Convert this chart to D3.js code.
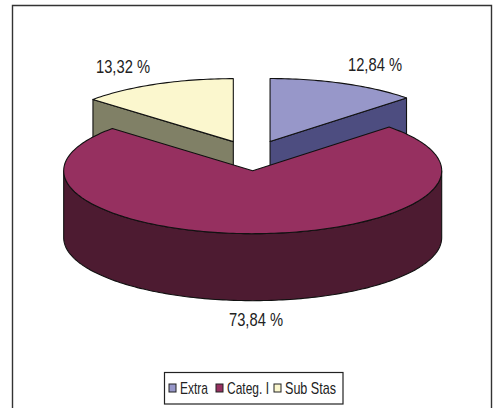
<!DOCTYPE html>
<html>
<head>
<meta charset="utf-8">
<script src="https://cdnjs.cloudflare.com/ajax/libs/d3/7.8.5/d3.min.js"></script>
<style>
html,body{margin:0;padding:0;background:#fff}
svg{display:block}
text{font-family:"Liberation Sans",Arial,sans-serif;fill:#222}
</style>
</head>
<body>
<svg id="chart" width="494" height="408"></svg>
<script>
// Share of each quality grade
const categories = ["Extra", "Categ. I", "Sub Stas"];
const shares = [12.84, 73.84, 13.32];
const shareLabels = ["12,84 %", "73,84 %", "13,32 %"];
const topColors = ["#9797c9", "#963060", "#fbf7ce"];
const sideColors = ["#4d4d80", "#4d1b31", "#808066"];

const svg = d3.select("#chart");
const W = 494, H = 408;
const cx = 252, cy = 155.5, rx = 189, ry = 63, depth = 67;
const explodeDist = 46, explodeTilt = 0.33;

// Outer chart frame, open along the bottom where the page ends
svg.append("path")
  .attr("d", d3.line()([[12.5, H + 2], [12.5, 5.5], [491.5, 5.5], [491.5, H + 2]]))
  .attr("fill", "none").attr("stroke", "#333").attr("stroke-width", 1.4);

const slices = d3.pie().sort(null).value(d => d)(shares);

// Point on a slice's ellipse; angle is clockwise from twelve o'clock
const rim = (c, a, dy = 0) => [c.x + rx * Math.sin(a), c.y - ry * Math.cos(a) + dy];
const arcAngles = (a0, a1) => {
  const n = Math.max(2, Math.ceil(Math.abs(a1 - a0) / 0.02));
  return d3.range(n + 1).map(i => a0 + (a1 - a0) * i / n);
};
const line = d3.line();
const outline = { stroke: "#111", width: 1.1 };

const shapes = slices.map((s, i) => {
  const mid = (s.startAngle + s.endAngle) / 2;
  const c = {
    x: cx + explodeDist * Math.sin(mid),
    y: cy - explodeDist * explodeTilt * Math.cos(mid)
  };
  return { s, i, c };
});

function face(d, fill) {
  svg.append("path").attr("d", d)
    .attr("fill", fill)
    .attr("stroke", outline.stroke)
    .attr("stroke-width", outline.width)
    .attr("stroke-linejoin", "round");
}

// Small back slices go first so the large slice overlaps their walls
[0, 2, 1].forEach(idx => {
  const { s, i, c } = shapes[idx];
  const a0 = s.startAngle, a1 = s.endAngle;
  const top = [[c.x, c.y], ...arcAngles(a0, a1).map(a => rim(c, a))];

  // Radial cut walls that face the viewer
  if (i === 0) {
    const p = rim(c, a1);
    face(line([[c.x, c.y], p, [p[0], p[1] + depth], [c.x, c.y + depth]]) + "Z", sideColors[i]);
  }
  if (i === 2) {
    const p = rim(c, a0);
    face(line([[c.x, c.y], p, [p[0], p[1] + depth], [c.x, c.y + depth]]) + "Z", sideColors[i]);
  }
  // Curved front wall, only the part on the near half of the ellipse
  const f0 = Math.max(a0, Math.PI / 2), f1 = Math.min(a1, Math.PI * 1.5);
  if (f1 > f0) {
    const angles = arcAngles(f0, f1);
    const wall = [...angles.map(a => rim(c, a)), ...angles.slice().reverse().map(a => rim(c, a, depth))];
    face(line(wall) + "Z", sideColors[i]);
  }
  face(line(top) + "Z", topColors[i]);
});

// Percentage labels, set in a condensed width
const labelPos = [[375, 64], [256, 319], [123, 66]];
svg.selectAll("text.share").data(shareLabels).join("text")
  .attr("class", "share")
  .attr("x", (d, i) => labelPos[i][0])
  .attr("y", (d, i) => labelPos[i][1])
  .attr("dy", "0.36em")
  .attr("text-anchor", "middle")
  .attr("font-size", 19)
  .attr("textLength", 54)
  .attr("lengthAdjust", "spacingAndGlyphs")
  .text(d => d);

// Legend
const legend = svg.append("g");
legend.append("rect")
  .attr("x", 164.5).attr("y", 372.5).attr("width", 178.5).attr("height", 31.5)
  .attr("fill", "#fff").attr("stroke", "#222").attr("stroke-width", 1.2);
const swatchX = [169, 216, 274];
const legendTextWidth = [28, 42, 51];
const items = legend.selectAll("g").data(categories).join("g")
  .attr("transform", (d, i) => `translate(${swatchX[i]},384)`);
items.append("rect")
  .attr("width", 7).attr("height", 8)
  .attr("fill", (d, i) => topColors[i])
  .attr("stroke", "#222").attr("stroke-width", 1);
items.append("text")
  .attr("x", 11).attr("y", 4).attr("dy", "0.36em")
  .attr("font-size", 17)
  .attr("textLength", (d, i) => legendTextWidth[i])
  .attr("lengthAdjust", "spacingAndGlyphs")
  .text(d => d);
</script>
</body>
</html>
